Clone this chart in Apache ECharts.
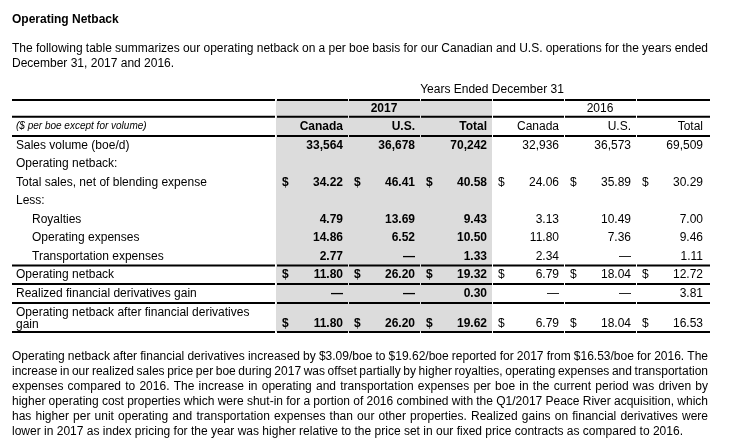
<!DOCTYPE html>
<html><head><meta charset="utf-8">
<script src="https://cdn.jsdelivr.net/npm/echarts@6/dist/echarts.min.js"></script>
<style>html,body{margin:0;padding:0;background:#fff}#c{width:741px;height:444px}</style>
</head><body><div id="c"></div>
<script>
// ---------- data ----------
const titleText = 'Operating Netback';
const introLines = [
  'The following table summarizes our operating netback on a per boe basis for our Canadian and U.S. operations for the years ended',
  'December 31, 2017 and 2016.'
];
const tableCaption = 'Years Ended December 31';
const years = ['2017', '2016'];
const columnNames = ['Canada', 'U.S.', 'Total', 'Canada', 'U.S.', 'Total'];
const unitsNote = '($ per boe except for volume)';
const rowLabels = [
  'Sales volume (boe/d)',
  'Operating netback:',
  'Total sales, net of blending expense',
  'Less:',
  'Royalties',
  'Operating expenses',
  'Transportation expenses',
  'Operating netback',
  'Realized financial derivatives gain',
  'Operating netback after financial derivatives\ngain'
];
const indentedRows = [false, false, false, false, true, true, true, false, false, false];
const dollarRows = [false, false, true, false, false, false, false, true, false, true];
const canada2017 = [33564, null, 34.22, null, 4.79, 14.86, 2.77, 11.80, 0, 11.80];
const us2017     = [36678, null, 46.41, null, 13.69, 6.52, 0, 26.20, 0, 26.20];
const total2017  = [70242, null, 40.58, null, 9.43, 10.50, 1.33, 19.32, 0.30, 19.62];
const canada2016 = [32936, null, 24.06, null, 3.13, 11.80, 2.34, 6.79, 0, 6.79];
const us2016     = [36573, null, 35.89, null, 10.49, 7.36, 0, 18.04, 0, 18.04];
const total2016  = [69509, null, 30.29, null, 7.00, 9.46, 1.11, 12.72, 3.81, 16.53];
const closingLines = [
  'Operating netback after financial derivatives increased by $3.09/boe to $19.62/boe reported for 2017 from $16.53/boe for 2016. The',
  'increase in our realized sales price per boe during 2017 was offset partially by higher royalties, operating expenses and transportation',
  'expenses compared to 2016. The increase in operating and transportation expenses per boe in the current period was driven by',
  'higher operating cost properties which were shut-in for a portion of 2016 combined with the Q1/2017 Peace River acquisition, which',
  'has higher per unit operating and transportation expenses than our other properties. Realized gains on financial derivatives were',
  'lower in 2017 as index pricing for the year was higher relative to the price set in our fixed price contracts as compared to 2016.'
];

// ---------- layout ----------
const FAM = '"Liberation Sans", Arial, sans-serif';
const columns = [canada2017, us2017, total2017, canada2016, us2016, total2016];
const boldCols = [true, true, true, false, false, false];
const rowHeights = [0.9, 1.05, 1, 1, 1, 1, 1, 1, 1, 1, 1.03, 1.57];
const rowStart = []; let acc = 0;
rowHeights.forEach(h => { rowStart.push(acc); acc += h; });
const TOTAL = acc;
const ruleRows = [0, 1, 2, 9, 10, 11, 12];
const boundary = k => k >= rowHeights.length ? TOTAL : rowStart[k];
const rowCenter = k => rowStart[k] + rowHeights[k] / 2;
const valueY = k => rowHeights[k] > 1.2 ? rowStart[k] + rowHeights[k] - 0.45 : rowCenter(k);

function fmt(v, r) {
  if (v === null) return '';
  if (r === 0) return v.toLocaleString('en-US');
  if (v === 0) return '\u2014';
  return v.toFixed(2);
}
function txt(text, x, y, font, align, extra) {
  return Object.assign({ type: 'text', silent: true, style: {
    text: text, x: x, y: y, font: font, fill: '#000',
    align: align, textAlign: align, verticalAlign: 'middle', textVerticalAlign: 'middle'
  }}, extra || {});
}

// ---------- paragraphs ----------
const meas = document.createElement('canvas').getContext('2d');
function textW(s, font) { meas.font = font; return meas.measureText(s).width; }
function paragraph(lines, o) {
  const els = [];
  const s = o.scaleX;
  lines.forEach((line, i) => {
    const y = o.y0 + i * o.lh;
    const justify = i < lines.length - 1;
    const words = line.split(' ');
    const ws = words.map(w => textW(w, o.font) * s);
    let gap = textW(' ', o.font) * s;
    if (justify && words.length > 1) {
      const sum = ws.reduce((a, b) => a + b, 0);
      gap = (o.width - sum) / (words.length - 1);
    }
    let x = o.x;
    words.forEach((w, j) => {
      els.push({ type: 'text', x: x, y: y, scaleX: s, scaleY: 1, silent: true,
        style: { text: w, font: o.font, fill: '#000', textVerticalAlign: 'middle', verticalAlign: 'middle' } });
      x += ws[j] + gap;
    });
  });
  return els;
}
const paraFont = '12px ' + FAM;
const closeScale = 671 / textW(closingLines[closingLines.length - 1], paraFont);
const graphics = [
  { type: 'text', x: 12, y: 20, silent: true, style: { text: titleText, font: 'bold 12px ' + FAM, fill: '#000', textVerticalAlign: 'middle', verticalAlign: 'middle' } }
].concat(
  paragraph(introLines, { x: 12, y0: 49, lh: 15, width: 696, font: paraFont, scaleX: 1 }),
  paragraph(closingLines, { x: 12, y0: 357, lh: 15, width: 696, font: paraFont, scaleX: closeScale })
);

// ---------- table data items ----------
const cellItems = [];
columns.forEach((col, c) => col.forEach((v, r) => {
  if (v !== null) cellItems.push([c, r]);
}));

const chart = echarts.init(document.getElementById('c'), null, { renderer: 'canvas' });
const g1 = { xAxisIndex: 1, yAxisIndex: 1 };
chart.setOption({
  animation: false,
  graphic: graphics,
  grid: [
    { left: 12, top: 100, width: 264, height: 232 },
    { left: 276, top: 100, width: 432, height: 232 }
  ],
  xAxis: [
    { gridIndex: 0, type: 'value', min: 0, max: 1, show: false },
    { gridIndex: 1, type: 'category', data: columnNames.map((n, i) => n + i), show: false }
  ],
  yAxis: [
    { gridIndex: 0, type: 'value', inverse: true, min: 0, max: TOTAL, show: false },
    { gridIndex: 1, type: 'value', inverse: true, min: 0, max: TOTAL, show: false }
  ],
  series: [
    // 2017 shading
    Object.assign({ type: 'custom', silent: true, z: 1, data: [[0, 0]],
      renderItem: (p, api) => {
        const bw = api.size([1, 0])[0];
        const a = api.coord([0, 0]), b = api.coord([2, TOTAL]);
        return { type: 'rect', shape: { x: a[0] - bw / 2, y: a[1], width: b[0] - a[0] + bw, height: b[1] - a[1] }, style: { fill: '#dcdcdc' } };
      } }, g1),
    // rules, label column
    { type: 'custom', silent: true, z: 3, xAxisIndex: 0, yAxisIndex: 0,
      data: ruleRows.map(k => [0, boundary(k)]),
      renderItem: (p, api) => {
        const a = api.coord([0, api.value(1)]), b = api.coord([1, api.value(1)]);
        return { type: 'line', shape: { x1: a[0], y1: a[1], x2: b[0] - 1, y2: a[1] }, style: { stroke: '#000', lineWidth: 2 } };
      } },
    // rules, data columns
    Object.assign({ type: 'custom', silent: true, z: 3,
      data: ruleRows.map(k => [0, boundary(k)]),
      renderItem: (p, api) => {
        const bw = api.size([1, 0])[0];
        const ch = [];
        for (let c = 0; c < columnNames.length; c++) {
          const pt = api.coord([c, api.value(1)]);
          ch.push({ type: 'line', shape: { x1: pt[0] - bw / 2 + 1, y1: pt[1], x2: pt[0] + bw / 2 + (c === columnNames.length - 1 ? 2 : 0), y2: pt[1] }, style: { stroke: '#000', lineWidth: 2 } });
        }
        return { type: 'group', children: ch };
      } }, g1),
    // caption
    Object.assign({ type: 'custom', silent: true, z: 4, data: [[0, -0.55]],
      renderItem: (p, api) => {
        const a = api.coord([0, api.value(1)]), b = api.coord([columnNames.length - 1, api.value(1)]);
        return txt(tableCaption, (a[0] + b[0]) / 2, a[1], '12px ' + FAM, 'center');
      } }, g1),
    // years
    Object.assign({ type: 'custom', silent: true, z: 4, data: [[1, rowCenter(0)], [4, rowCenter(0)]],
      renderItem: (p, api) => {
        const a = api.coord([api.value(0), api.value(1)]);
        return txt(years[p.dataIndex], a[0], a[1], (p.dataIndex === 0 ? 'bold ' : '') + '12px ' + FAM, 'center');
      } }, g1),
    // column headers
    Object.assign({ type: 'custom', silent: true, z: 4, data: columnNames.map((n, c) => [c, rowCenter(1)]),
      renderItem: (p, api) => {
        const bw = api.size([1, 0])[0];
        const a = api.coord([api.value(0), api.value(1)]);
        const c = p.dataIndex;
        return txt(columnNames[c], a[0] + bw / 2 - 5, a[1], (boldCols[c] ? 'bold ' : '') + '12px ' + FAM, 'right');
      } }, g1),
    // cells
    Object.assign({ type: 'custom', silent: true, z: 4, data: cellItems,
      renderItem: (p, api) => {
        const c = api.value(0), r = api.value(1);
        const bw = api.size([1, 0])[0];
        const a = api.coord([c, valueY(r + 2)]);
        const font = (boldCols[c] ? 'bold ' : '') + '12px ' + FAM;
        const ch = [txt(fmt(columns[c][r], r), a[0] + bw / 2 - 5, a[1], font, 'right')];
        if (dollarRows[r]) ch.push(txt('$', a[0] - bw / 2 + 6, a[1], font, 'left'));
        return { type: 'group', children: ch };
      } }, g1),
    // row labels
    { type: 'custom', silent: true, z: 4, xAxisIndex: 0, yAxisIndex: 0,
      data: [[0, rowCenter(1)]].concat(rowLabels.map((l, r) => [0, rowCenter(r + 2)])),
      renderItem: (p, api) => {
        const a = api.coord([0, api.value(1)]);
        if (p.dataIndex === 0) return txt(unitsNote, a[0] + 4, a[1], 'italic 10px ' + FAM, 'left');
        const r = p.dataIndex - 1;
        const el = txt(rowLabels[r], a[0] + 4 + (indentedRows[r] ? 16 : 0), a[1] + (r === rowLabels.length - 1 ? 1 : 0), '12px ' + FAM, 'left');
        el.style.lineHeight = 12;
        return el;
      } }
  ]
});
</script>
</body></html>
